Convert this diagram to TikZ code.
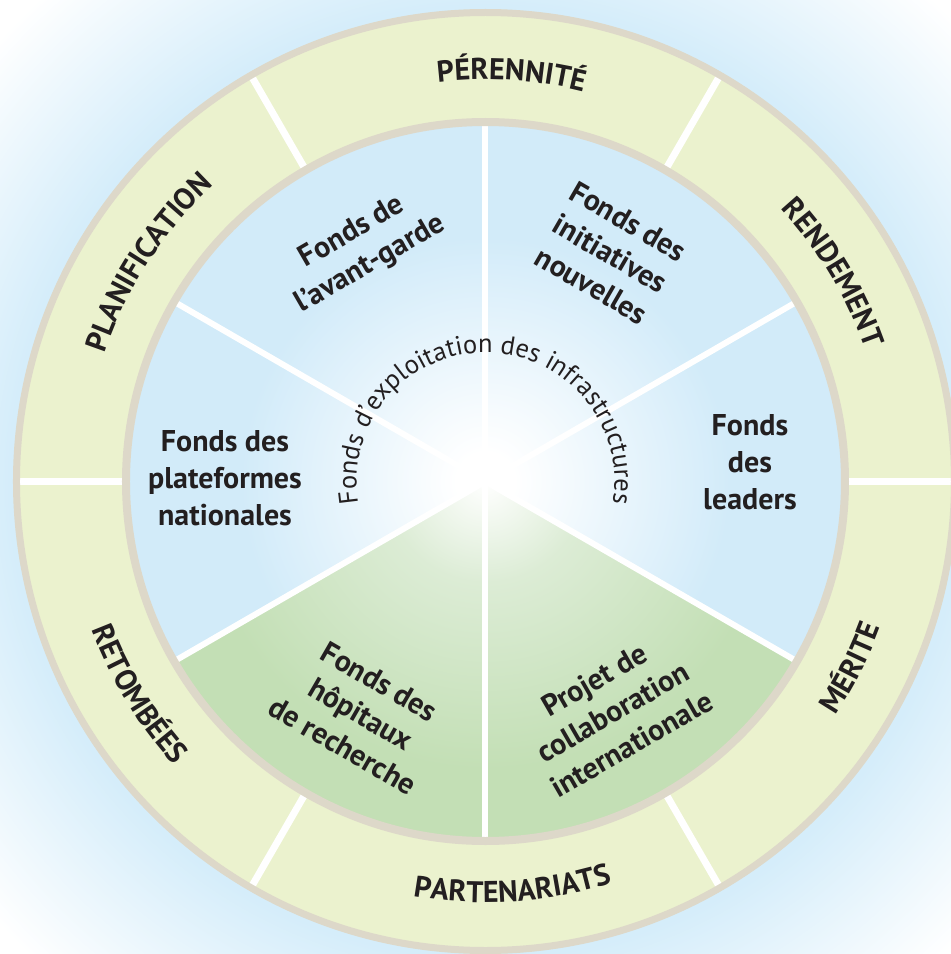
\documentclass[tikz,border=0pt]{standalone}
\usepackage{fontspec}
\setmainfont{PT Sans}
\usetikzlibrary{decorations.text}
\definecolor{bgblue}{HTML}{D5EDFA}
\definecolor{innerblue}{HTML}{D2EBF9}
\definecolor{ringfill}{HTML}{EBF2CE}
\definecolor{ringgrey}{HTML}{DDD8C9}
\definecolor{greenfill}{HTML}{C3DFB5}
\definecolor{greenmid}{HTML}{DCECD5}
\definecolor{textcol}{HTML}{231F20}
\pgfdeclareradialshading{bgshade}{\pgfpoint{0bp}{0bp}}{color(0bp)=(bgblue); color(17bp)=(bgblue); color(23.5bp)=(white); color(50bp)=(white)}
\pgfdeclareradialshading{innershade}{\pgfpoint{0bp}{0bp}}{color(0bp)=(white); color(2bp)=(white); color(17bp)=(innerblue); color(50bp)=(innerblue)}
\pgfdeclareradialshading{greenshade}{\pgfpoint{0bp}{0bp}}{color(0bp)=(white); color(7bp)=(greenmid); color(20bp)=(greenfill); color(50bp)=(greenfill)}
\newcommand\segfont{\bfseries\fontsize{30}{37}\selectfont}
\newcommand\ringfont{\bfseries\fontsize{30}{30}\selectfont}
\newcommand\arcfont{\fontsize{26.5}{26.5}\selectfont}
\begin{document}
\begin{tikzpicture}[x=1pt,y=1pt,
  seglabel/.style={font=\segfont, align=center, text=textcol, inner sep=0pt},
  outerdiv/.style={draw=white, line width=7pt},
  innerdiv/.style={draw=white, line width=6pt},
  border/.style={draw=ringgrey},
  ringlabel/.style={decorate, decoration={text along path, text align=center, text color=textcol, text={|\ringfont|#1}}},
]
\useasboundingbox (-485.5,-472.5) rectangle (465.5,481.5);
\clip (-485.5,-472.5) rectangle (465.5,481.5);
\shade[shading=bgshade] (0,0) circle (700);
\fill[ringfill] (0,0) circle (472);
\foreach \a in {0,60,...,300} \draw[outerdiv] (\a:358) -- (\a:468);
\shade[shading=innershade] (0,0) circle (360);
\begin{scope}
  \clip (0,0) -- (210:362) arc[start angle=210, end angle=330, radius=362] -- cycle;
  \shade[shading=greenshade] (0,0) circle (360);
\end{scope}
\foreach \a in {30,90,...,330} \draw[innerdiv] (0,0) -- (\a:358);
\draw[border, line width=8pt] (0,0) circle (359.5);
\draw[border, line width=7pt] (0,0) circle (469);
% ring labels
\path[ringlabel=PÉRENNITÉ] (121.3:402) arc[start angle=121.3, end angle=51.3, radius=402];
\path[ringlabel=RENDEMENT] (66:402) arc[start angle=66, end angle=-4, radius=402];
\path[ringlabel=PLANIFICATION] (187:402) arc[start angle=187, end angle=107, radius=402];
\path[ringlabel=MÉRITE] (298:421) arc[start angle=298, end angle=368, radius=421];
\path[ringlabel=PARTENARIATS] (233.8:421) arc[start angle=233.8, end angle=313.8, radius=421];
\path[ringlabel=RETOMBÉES] (171.5:421) arc[start angle=171.5, end angle=251.5, radius=421];
% central arc text
\path[decorate, decoration={text along path, text align=center, text color=textcol, text={|\arcfont|Fonds d’exploitation des infrastructures}}] (210:129) arc[start angle=210, end angle=-30, radius=129];
% segment labels
\node[seglabel, rotate=30] (avant) at (-124,233) {Fonds de\\l’avant-garde};
\node[seglabel, rotate=-30] (initiatives) at (124.5,228) {Fonds des\\initiatives\\nouvelles};
\node[seglabel] (leaders) at (264.5,19.5) {Fonds\\des\\leaders};
\node[seglabel] (plateformes) at (-260.5,3.5) {Fonds des\\plateformes\\nationales};
\node[seglabel, rotate=30] (collab) at (127.5,-230.5) {Projet de\\collaboration\\internationale};
\node[seglabel, rotate=-30] (hopitaux) at (-124.5,-232.5) {Fonds des\\hôpitaux\\de recherche};
\end{tikzpicture}
\end{document}
